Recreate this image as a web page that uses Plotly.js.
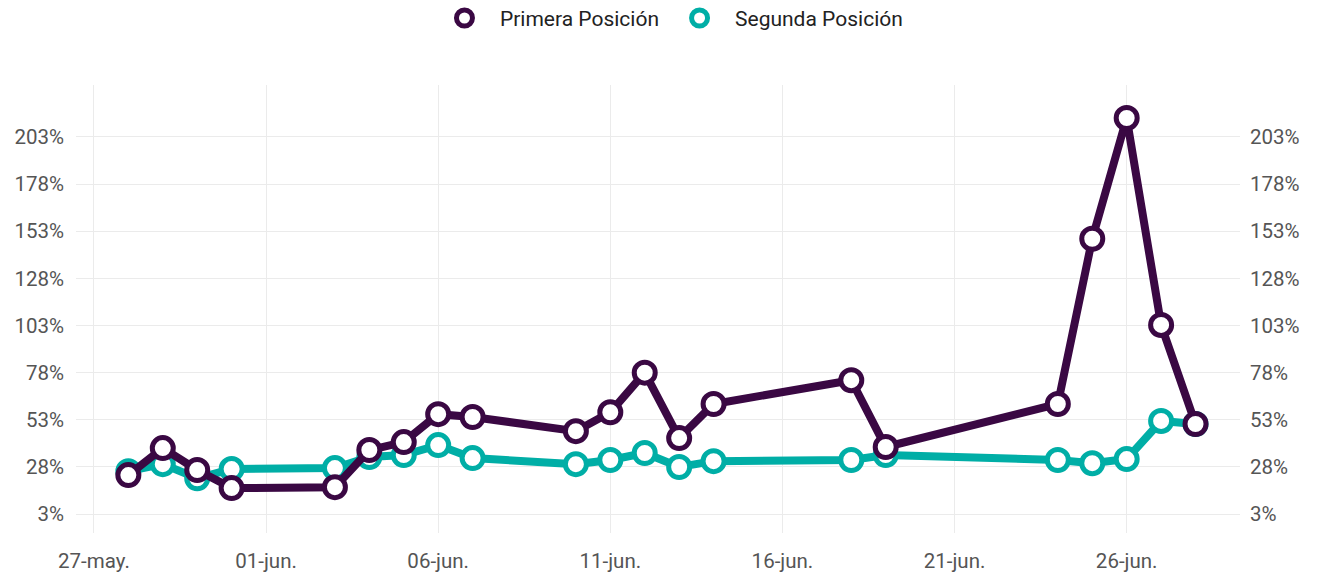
<!DOCTYPE html>
<html>
<head>
<meta charset="utf-8">
<script src="https://cdn.plot.ly/plotly-3.0.1.min.js"></script>
<style>html,body{margin:0;padding:0;background:#fff;}#chart{width:1317px;height:573px;}</style>
</head>
<body>
<div id="chart"></div>
<script>
const dates = ['2023-05-28','2023-05-29','2023-05-30','2023-05-31','2023-06-03','2023-06-04','2023-06-05','2023-06-06','2023-06-07','2023-06-10','2023-06-11','2023-06-12','2023-06-13','2023-06-14','2023-06-18','2023-06-19','2023-06-24','2023-06-25','2023-06-26','2023-06-27','2023-06-28'];
const primera = [23.7, 38.0, 26.4, 16.8, 17.3, 37.0, 41.2, 56.0, 54.5, 47.0, 57.0, 78.0, 43.3, 61.4, 74.0, 38.6, 61.4, 149.0, 213.0, 103.3, 50.8];
const segunda = [25.8, 29.5, 22.0, 26.9, 27.4, 33.3, 34.3, 39.6, 32.7, 29.5, 31.7, 35.4, 28.0, 31.1, 31.7, 34.3, 31.7, 30.0, 32.2, 52.4, 50.8];
const seriesNames = ['Primera Posición', 'Segunda Posición'];
const colors = ['#3a0843', '#00aea6'];
const tickDates = ['2023-05-27','2023-06-01','2023-06-06','2023-06-11','2023-06-16','2023-06-21','2023-06-26'];
const tickLabels = ['27-may.','01-jun.','06-jun.','11-jun.','16-jun.','21-jun.','26-jun.'];
const yTicks = [3, 28, 53, 78, 103, 128, 153, 178, 203];
const yTickLabels = yTicks.map(v => v + '%');

const yRange = [-7, 230.5];
const xRange = ['2023-05-26 11:30', '2023-06-29 07:00'];

function lineTrace(y, i) {
  return {
    x: dates, y: y, type: 'scatter', mode: 'lines+markers', name: seriesNames[i],
    showlegend: false, cliponaxis: false,
    line: {color: colors[i], width: 8},
    marker: {size: 21, color: '#ffffff', line: {color: colors[i], width: 5}},
    hovertemplate: '%{y:.1f}%<extra>' + seriesNames[i] + '</extra>'
  };
}
function legendTrace(i) {
  return {
    x: [null], y: [null], type: 'scatter', mode: 'markers', name: seriesNames[i],
    showlegend: true,
    marker: {size: 21, color: '#ffffff', line: {color: colors[i], width: 5}}
  };
}
const traces = [
  legendTrace(0), legendTrace(1),
  lineTrace(segunda, 1), lineTrace(primera, 0),
  {x: [dates[0]], y: [null], yaxis: 'y2', type: 'scatter', mode: 'markers', showlegend: false, hoverinfo: 'skip'}
];

const axisFont = {family: 'Roboto, sans-serif', size: 20.5, color: '#555555'};
const layout = {
  width: 1317, height: 573,
  margin: {l: 76, r: 77, t: 85, b: 40},
  paper_bgcolor: '#ffffff', plot_bgcolor: '#ffffff',
  font: {family: 'Roboto, sans-serif'},
  showlegend: true,
  legend: {orientation: 'h', x: 0.509, xanchor: 'center', yref: 'container', y: 0.968, yanchor: 'middle',
           font: {family: 'Roboto, sans-serif', size: 21, color: '#222222'}, itemwidth: 61,
           traceorder: 'normal'},
  xaxis: {type: 'date', range: xRange, tickvals: tickDates, ticktext: tickLabels,
          showgrid: true, gridcolor: '#ebebeb', gridwidth: 1, zeroline: false, showline: false,
          ticks: '', tickfont: axisFont, ticklabelstandoff: 13, automargin: false, fixedrange: true},
  yaxis: {range: yRange, tickvals: yTicks, ticktext: yTickLabels, showgrid: true, gridcolor: '#ebebeb',
          gridwidth: 1, zeroline: false, showline: false, ticks: '', tickfont: axisFont,
          ticklabelstandoff: 11, automargin: false, fixedrange: true},
  yaxis2: {range: yRange, overlaying: 'y', side: 'right', tickvals: yTicks, ticktext: yTickLabels,
           showgrid: false, zeroline: false, showline: false, ticks: '', tickfont: axisFont,
           ticklabelstandoff: 9, automargin: false, fixedrange: true}
};
Plotly.newPlot('chart', traces, layout, {displayModeBar: false, staticPlot: false});
</script>
</body>
</html>
